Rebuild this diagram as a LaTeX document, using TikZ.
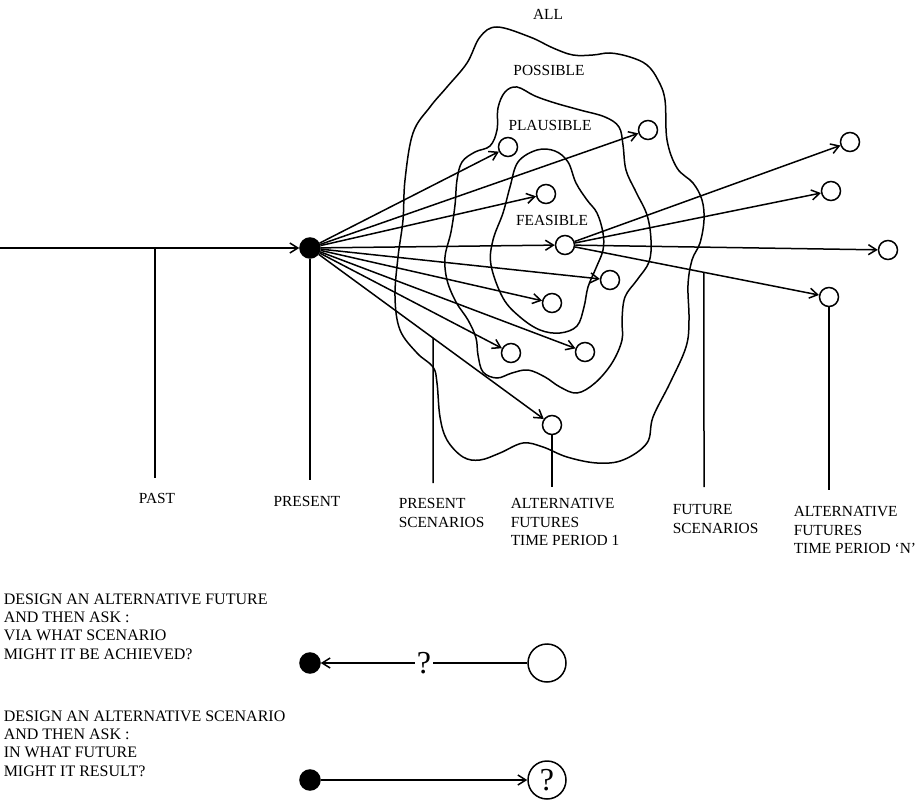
\documentclass[tikz,border=0pt]{standalone}
\usepackage{fontspec}
\setmainfont{Liberation Serif}
\usepackage{tikz}
\usetikzlibrary{arrows.meta}
\newcommand{\capfont}{\fontsize{15.4}{18.3}\selectfont}
\newcommand{\notefont}{\fontsize{16}{18.3}\selectfont}
\newcommand{\askfont}{\fontsize{32}{34}\selectfont}
\newcommand{\sizefuture}{19pt}
\newcommand{\sizepresent}{20pt}
\newcommand{\sizeask}{38pt}
\tikzset{
    common/.style={draw, circle, inner sep=0pt},
    future/.style={common, minimum size=\sizefuture},
    present/.style={common, fill, minimum size=\sizepresent},
    askfuture/.style={common, minimum size=\sizeask, font=\askfont},
    zone/.style={smooth cycle, tension=0.6},
    zonename/.style={inner sep=0pt, font=\capfont},
    caption/.style={inner sep=0pt, font=\capfont, align=left},
    note/.style={inner sep=0pt, font=\notefont, align=left, anchor=north west}
}

\begin{document}
\begin{tikzpicture}[x=1pt, y=-1pt, line width=1.5pt, >={Straight Barb[length=8pt,width=10pt]}]
  \useasboundingbox (0,0) rectangle (921,802);

  % horizons: possible, plausible, feasible
  \draw plot[zone] coordinates {(497,27) (530,37) (553,48) (573,55) (593,55) (610,53) (630,57) (647,65) (658,80) (665,100) (667,140) (677,168) (693,183) (702,200) (704,220) (700,243) (692,260) (688,285) (689,320) (686,347) (670,383) (653,417) (647,443) (623,460) (597,463) (567,457) (543,447) (523,443) (500,453) (480,460) (463,457) (447,440) (440,417) (437,383) (433,367) (417,353) (400,330) (395,297) (398,257) (403,220) (405,180) (413,133) (430,107) (447,87) (467,63) (480,37)};
  \draw plot[zone] coordinates {(517,87) (535,96) (555,103) (580,110) (605,117) (619,127) (623,145) (626,170) (636,192) (647,215) (651,240) (649,262) (637,280) (625,297) (622,320) (622,340) (612,363) (595,383) (577,393) (560,387) (545,377) (528,370) (512,373) (497,378) (483,372) (478,355) (476,338) (468,320) (456,302) (447,280) (445,257) (451,232) (455,205) (457,180) (462,162) (475,152) (490,146) (497,130) (498,108) (505,92)};
  \draw plot[zone] coordinates {(537,150) (555,151) (568,162) (576,183) (587,200) (597,213) (603,233) (603,250) (596,268) (588,287) (584,307) (577,326) (560,333) (540,330) (520,317) (503,298) (491,265) (493,240) (503,213) (510,187) (518,162)};

  \node[zonename] (all-lbl) at (548,14) {ALL};
  \node[zonename] (possible-lbl) at (549,70) {POSSIBLE};
  \node[zonename] (plausible-lbl) at (550,125) {PLAUSIBLE};
  \node[zonename] (feasible-lbl) at (552,220) {FEASIBLE};

  % present and alternative futures
  \node[present] (now) at (310,248) {};
  \node[future] (alt-1) at (508,147) {};
  \node[future] (alt-2) at (648,130) {};
  \node[future] (alt-3) at (546,194) {};
  \node[future] (alt-4) at (565,245) {};
  \node[future] (alt-5) at (610,280) {};
  \node[future] (alt-6) at (552,303) {};
  \node[future] (alt-7) at (585,352) {};
  \node[future] (alt-8) at (511,353) {};
  \node[future] (alt-9) at (552,425) {};
  \node[future] (far-1) at (850,142) {};
  \node[future] (far-2) at (831,191) {};
  \node[future] (far-3) at (888,250) {};
  \node[future] (far-4) at (829,297) {};

  \coordinate (past-start) at (0,248);
  \draw[->] (past-start) -- (now);
  \foreach \i in {1,...,9}
      \draw[->] (now) -- (alt-\i);
  \foreach \j in {1,...,4}
      \draw[->] (alt-4) -- (far-\j);

  % stems down to the captions
  \coordinate (past-top) at (155,248);
  \coordinate (past-end) at (155,478);
  \coordinate (now-end) at (310,480);
  \coordinate (pscn-x) at (433,300);
  \coordinate (pscn-end) at (433,483);
  \coordinate (alt-end) at (552,487);
  \coordinate (fscn-x) at (704,300);
  \coordinate (fscn-end) at (704,487);
  \coordinate (far-end) at (829,490);
  \draw (past-top) -- (past-end);
  \draw (now) -- (now-end);
  \draw (intersection of now--alt-9 and pscn-x--pscn-end) -- (pscn-end);
  \draw (alt-9) -- (alt-end);
  \draw (intersection of alt-4--far-4 and fscn-x--fscn-end) -- (fscn-end);
  \draw (far-4) -- (far-end);

  \node[caption, anchor=north] (past-lbl) at (157,493) {PAST};
  \node[caption, anchor=north] (now-lbl) at (307,496) {PRESENT};
  \node[caption, anchor=north west] (pscn-lbl) at (398,498) {PRESENT\\SCENARIOS};
  \node[caption, anchor=north west] (alt-lbl) at (510,498) {ALTERNATIVE\\FUTURES\\TIME PERIOD 1};
  \node[caption, anchor=north west] (fscn-lbl) at (672,504) {FUTURE\\SCENARIOS};
  \node[caption, anchor=north west] (far-lbl) at (793,506) {ALTERNATIVE\\FUTURES\\TIME PERIOD `N'};

  % the two questions
  \node[note] (ask-note) at (3,593) {DESIGN AN ALTERNATIVE FUTURE\\AND THEN ASK :\\VIA WHAT SCENARIO\\MIGHT IT BE ACHIEVED?};
  \node[note] (try-note) at (3,710) {DESIGN AN ALTERNATIVE SCENARIO\\AND THEN ASK :\\IN WHAT FUTURE\\MIGHT IT RESULT?};

  \path (310,663) node[present] (ask-now) {}
      ++(0:237) node[askfuture] (ask-alt) {};
  \path (310,780) node[present] (try-now) {}
      ++(0:237) node[askfuture] (try-alt) {?};
  \draw[->] (ask-alt) -- node[fill=white, inner sep=2pt, font=\askfont] (ask-q) {?} (ask-now);
  \draw[->] (try-now) -- (try-alt);
\end{tikzpicture}
\end{document}
